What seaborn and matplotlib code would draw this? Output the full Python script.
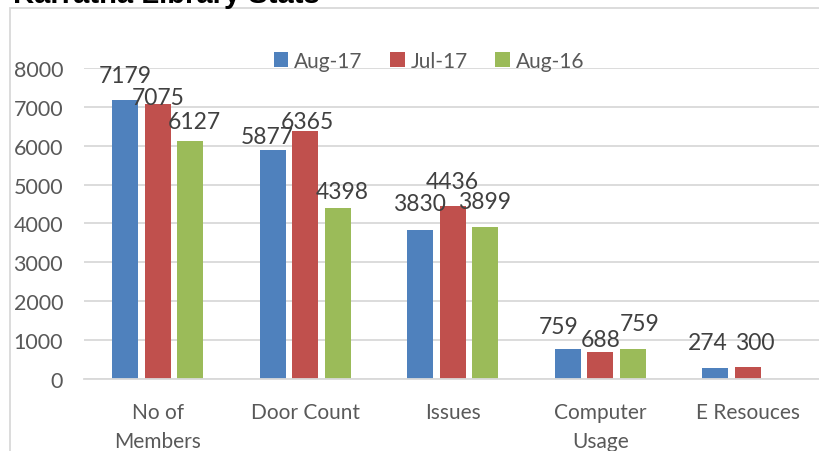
import numpy as np
import pandas as pd
import matplotlib
matplotlib.use("Agg")
import matplotlib.pyplot as plt
from matplotlib.patches import Patch, Rectangle
import seaborn as sns

# chart data
categories = ["No of\nMembers", "Door Count", "Issues", "Computer\nUsage", "E Resouces"]
series = ["Aug-17", "Jul-17", "Aug-16"]
aug17 = [7179, 5877, 3830, 759, 274]
jul17 = [7075, 6365, 4436, 688, 300]
aug16 = [6127, 4398, 3899, 759, np.nan]
yticks = [0, 1000, 2000, 3000, 4000, 5000, 6000, 7000, 8000]

colors = ["#4F81BD", "#C0504D", "#9BBB59"]

# label nudges (dx, dy) in pixels relative to bar top, as in the reference
nudges = {
    "Aug-17": [(0, 24), (-6, 14), (-1, 26), (-9, 23), (-8, 26)],
    "Jul-17": [(0, 6), (2, 10), (0, 25), (0, 12), (7, 25)],
    "Aug-16": [(4, 19), (5, 16), (-1, 26), (7, 26), (0, 26)],
}

sns.set_theme(style="white")
plt.rcParams["font.family"] = ["Lato", "DejaVu Sans"]

rows = []
for name, vals in zip(series, [aug17, jul17, aug16]):
    for cat, v in zip(categories, vals):
        if not np.isnan(v):
            rows.append({"category": cat, "series": name, "value": v})
df = pd.DataFrame(rows)

fig = plt.figure(figsize=(8.2, 4.52), dpi=100)
ax = fig.add_axes([84 / 820, (452 - 379.7) / 452, (821.5 - 84) / 820, (379.7 - 69) / 452])

sns.barplot(data=df, x="category", y="value", hue="series", order=categories,
            hue_order=series, palette=colors, saturation=1, width=0.66, gap=0.2,
            legend=False, ax=ax, linewidth=0)

ax.set_xlim(-0.5, 4.5)
ax.set_ylim(0, 8000)
ax.set_yticks(yticks)
ax.set_xlabel("")
ax.set_ylabel("")
ax.grid(axis="y", color="#D9D9D9", linewidth=1.3)
ax.set_axisbelow(True)
for s in ["top", "right", "left"]:
    ax.spines[s].set_visible(False)
ax.spines["bottom"].set_color("#D9D9D9")
ax.spines["bottom"].set_linewidth(1.3)
ax.tick_params(axis="both", length=0, colors="#595959")
ax.tick_params(axis="y", pad=15, labelsize=15.5)
ax.tick_params(axis="x", pad=17, labelsize=15)
plt.setp(ax.get_xticklabels(), linespacing=1.55, va="top")

# data labels
px = 72 / 100
for name, cont in zip(series, ax.containers):
    for bar in cont:
        h = bar.get_height()
        if np.isnan(h) or h == 0:
            continue
        xc = bar.get_x() + bar.get_width() / 2
        idx = int(round(xc))
        dx, dy = nudges[name][idx]
        ax.annotate(f"{int(h)}", xy=(xc, h), xytext=(dx * px, dy * px),
                    textcoords="offset points", ha="center", va="center",
                    fontsize=16.5, color="#404040")

# legend
handles = [Patch(facecolor=c, edgecolor="none") for c in colors]
fig.legend(handles, series, loc="center", bbox_to_anchor=(429 / 820, 1 - 62 / 452),
           ncol=3, frameon=False, fontsize=15, handlelength=0.7, handleheight=0.7,
           handletextpad=0.3, columnspacing=1.3, labelcolor="#595959")

# chart frame
fig.patches.append(Rectangle((10 / 820, -0.1), 1.2, 1.1 - 9 / 452, transform=fig.transFigure,
                             fill=False, edgecolor="#D9D9D9", linewidth=1.3))

fig.text(13 / 820, 1 - 3 / 452, "Karratha Library Stats", fontsize=21, fontweight="bold",
         family=["Liberation Sans", "DejaVu Sans"], va="baseline", ha="left", color="black")

fig.savefig("out.png", dpi=100)
